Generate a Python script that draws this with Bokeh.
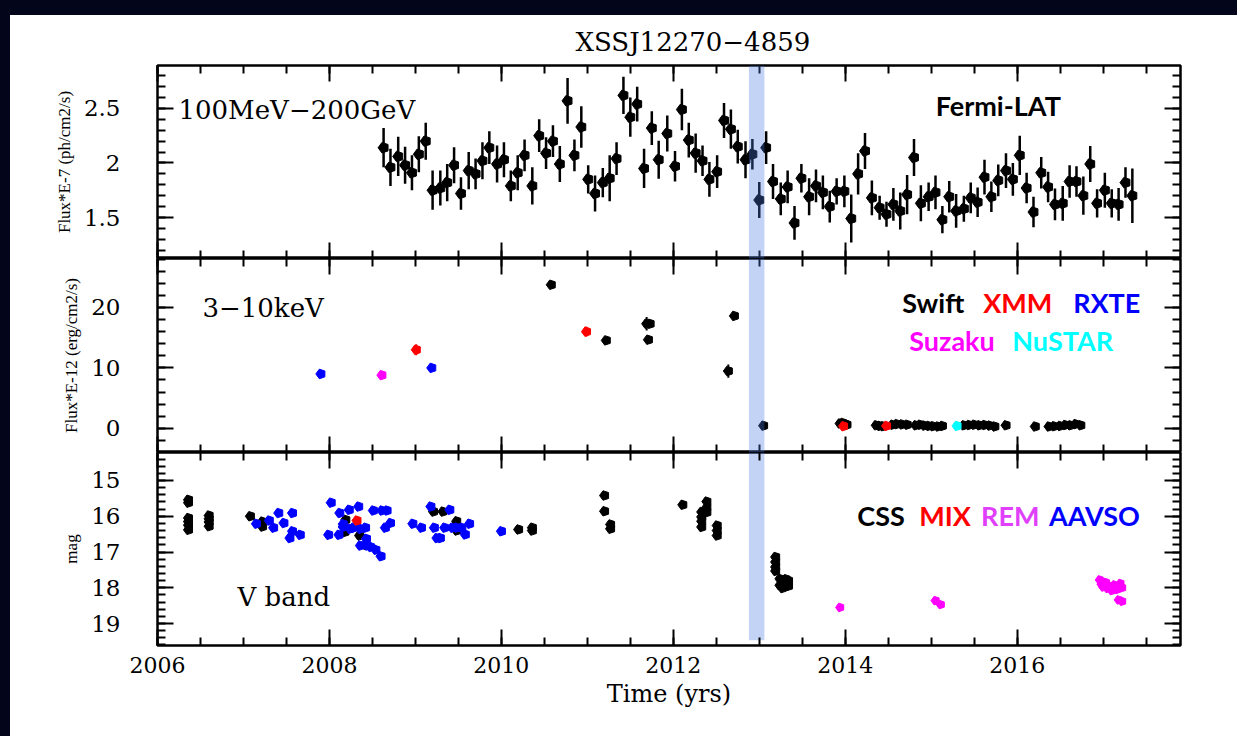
import math
from bokeh.plotting import figure
from bokeh.models import Range1d, LinearAxis, SingleIntervalTicker, Label, BoxAnnotation, ColumnDataSource, Title
from bokeh.layouts import column
from bokeh.embed import file_html
from bokeh.resources import INLINE
from bokeh.core.properties import value

# ---------------- data ----------------
TITLE = "XSSJ12270\u22124859"
X_LABEL = "Time (yrs)"
BAND_START, BAND_END = 2012.88, 2013.06

# Fermi-LAT 100MeV-200GeV (Flux*E-7 ph/cm2/s)
fermi_t = [2008.63, 2008.71, 2008.80, 2008.88, 2008.96, 2009.04, 2009.12, 2009.20, 2009.29, 2009.37,
           2009.45, 2009.53, 2009.62, 2009.70, 2009.78, 2009.86, 2009.95, 2010.03, 2010.11, 2010.19,
           2010.27, 2010.36, 2010.44, 2010.52, 2010.60, 2010.68, 2010.77, 2010.85, 2010.93, 2011.01,
           2011.09, 2011.18, 2011.26, 2011.34, 2011.42, 2011.50, 2011.58, 2011.66, 2011.75, 2011.83,
           2011.93, 2012.02, 2012.10, 2012.18, 2012.26, 2012.34, 2012.42, 2012.51, 2012.59, 2012.67,
           2012.75, 2012.84, 2012.92, 2013.00, 2013.08, 2013.16, 2013.25, 2013.33, 2013.41, 2013.49,
           2013.58, 2013.66, 2013.74, 2013.82, 2013.90, 2013.99, 2014.07, 2014.15, 2014.23, 2014.31,
           2014.40, 2014.48, 2014.56, 2014.64, 2014.72, 2014.80, 2014.88, 2014.97, 2015.05, 2015.13,
           2015.21, 2015.29, 2015.38, 2015.46, 2015.54, 2015.62, 2015.70, 2015.78, 2015.87, 2015.95,
           2016.03, 2016.11, 2016.19, 2016.28, 2016.36, 2016.44, 2016.53, 2016.61, 2016.69, 2016.77,
           2016.85, 2016.93, 2017.02, 2017.10, 2017.18, 2017.26, 2017.34]
fermi_f = [2.14, 1.96, 2.06, 1.98, 1.91, 2.08, 2.20, 1.75, 1.77, 1.82,
           1.98, 1.72, 1.93, 1.90, 2.02, 2.14, 1.99, 2.03, 1.79, 1.91,
           2.07, 1.79, 2.25, 2.09, 2.20, 1.99, 2.57, 2.07, 2.33, 1.85,
           1.72, 1.82, 1.86, 2.04, 2.62, 2.42, 2.54, 1.95, 2.32, 2.03,
           2.27, 1.97, 2.49, 2.21, 2.09, 2.02, 1.85, 1.92, 2.39, 2.31,
           2.15, 2.03, 2.08, 1.66, 2.14, 1.83, 1.67, 1.78, 1.45, 1.86,
           1.69, 1.79, 1.73, 1.60, 1.74, 1.74, 1.49, 1.90, 2.11, 1.68,
           1.59, 1.53, 1.62, 1.56, 1.71, 2.05, 1.63, 1.69, 1.73, 1.48,
           1.69, 1.56, 1.58, 1.68, 1.64, 1.87, 1.69, 1.84, 1.93, 1.85,
           2.07, 1.77, 1.55, 1.91, 1.78, 1.62, 1.63, 1.83, 1.83, 1.70,
           1.99, 1.63, 1.75, 1.63, 1.62, 1.82, 1.70]
fermi_e = [0.18, 0.17, 0.18, 0.17, 0.16, 0.165, 0.17, 0.18, 0.16, 0.17,
           0.165, 0.15, 0.17, 0.14, 0.17, 0.15, 0.17, 0.16, 0.14, 0.16,
           0.145, 0.17, 0.15, 0.145, 0.145, 0.165, 0.21, 0.145, 0.19, 0.13,
           0.165, 0.135, 0.21, 0.15, 0.17, 0.18, 0.16, 0.18, 0.155, 0.175,
           0.165, 0.14, 0.19, 0.16, 0.18, 0.14, 0.16, 0.15, 0.16, 0.18,
           0.155, 0.17, 0.14, 0.165, 0.15, 0.16, 0.15, 0.15, 0.155, 0.13,
           0.17, 0.15, 0.155, 0.145, 0.12, 0.145, 0.22, 0.19, 0.165, 0.16,
           0.11, 0.115, 0.15, 0.17, 0.18, 0.17, 0.165, 0.13, 0.155, 0.125,
           0.145, 0.155, 0.12, 0.14, 0.135, 0.16, 0.14, 0.145, 0.16, 0.15,
           0.18, 0.14, 0.14, 0.145, 0.14, 0.145, 0.16, 0.15, 0.14, 0.175,
           0.165, 0.13, 0.16, 0.13, 0.15, 0.14, 0.25]

# X-ray 3-10 keV (Flux*E-12 erg/cm2/s)
swift_t = [2010.58, 2011.22, 2011.69, 2011.73, 2011.71, 2012.64, 2012.71, 2013.05,
           2013.94, 2013.97, 2014.00, 2014.02, 2014.36, 2014.40, 2014.44,
           2014.55, 2014.60, 2014.66, 2014.72, 2014.82, 2014.87, 2014.92, 2014.97,
           2015.02, 2015.08, 2015.13, 2015.38, 2015.44, 2015.50, 2015.56, 2015.62,
           2015.68, 2015.74, 2015.87, 2016.21, 2016.37, 2016.43, 2016.50, 2016.56,
           2016.62, 2016.68, 2016.74]
swift_f = [23.75, 14.55, 17.3, 17.3, 14.66, 9.48, 18.6, 0.44,
           0.8, 0.9, 0.7, 0.6, 0.5, 0.4, 0.35,
           0.6, 0.7, 0.65, 0.6, 0.5, 0.6, 0.45, 0.4,
           0.35, 0.3, 0.4, 0.5, 0.55, 0.6, 0.5, 0.55,
           0.45, 0.3, 0.5, 0.3, 0.3, 0.35, 0.4, 0.55,
           0.5, 0.7, 0.5]
swift_e = [0.3, 0.3, 1.1, 0.6, 0.3, 1.1, 0.3, 0.2,
           0.2, 0.2, 0.2, 0.2, 0.2, 0.2, 0.2,
           0.2, 0.2, 0.2, 0.2, 0.2, 0.2, 0.2, 0.2,
           0.2, 0.2, 0.2, 0.2, 0.2, 0.2, 0.2, 0.2,
           0.2, 0.2, 0.2, 0.2, 0.2, 0.2, 0.2, 0.2,
           0.2, 0.2, 0.2]
xmm_t = [2009.01, 2010.99, 2013.98, 2014.48]
xmm_f = [13.0, 16.0, 0.35, 0.4]
xmm_e = [0.9, 0.8, 0.1, 0.1]
rxte_t = [2007.90, 2009.19]
rxte_f = [9.0, 10.0]
rxte_e = [0.7, 0.3]
suzaku_t = [2008.61]
suzaku_f = [8.8]
nustar_t = [2015.30]
nustar_f = [0.4]

# Optical V band (mag)
css_t = [2006.36, 2006.36, 2006.36, 2006.36, 2006.36, 2006.36,
         2006.60, 2006.60, 2006.60, 2006.60,
         2007.08, 2007.22, 2007.22, 2008.19, 2008.18, 2008.35, 2008.42,
         2009.21, 2009.32, 2009.48, 2009.48, 2010.20, 2010.36, 2010.36,
         2011.20, 2011.20, 2011.27, 2011.27, 2012.11,
         2012.33, 2012.33, 2012.33, 2012.33, 2012.39, 2012.39, 2012.39,
         2012.51, 2012.51, 2012.51,
         2013.19, 2013.19, 2013.19, 2013.19,
         2013.24, 2013.24, 2013.27, 2013.27, 2013.31, 2013.31, 2013.34, 2013.34]
css_m = [15.54, 15.62, 16.05, 16.15, 16.25, 16.38,
         15.98, 16.07, 16.16, 16.28,
         16.0, 16.15, 16.29, 16.10, 16.44, 16.54, 16.80,
         15.87, 15.87, 16.14, 16.40, 16.37, 16.32, 16.40,
         15.42, 15.86, 16.23, 16.35, 15.68,
         15.88, 16.02, 16.14, 16.30, 15.59, 15.75, 15.89,
         16.26, 16.40, 16.54,
         17.14, 17.28, 17.42, 17.53,
         17.75, 17.93, 17.84, 18.01, 17.76, 17.90, 17.80, 17.95]
mix_t = [2008.32]
mix_m = [16.12]
rem_t = [2013.94, 2015.05, 2015.11, 2016.96, 2016.98, 2017.00, 2017.03, 2017.05, 2017.08,
         2017.10, 2017.13, 2017.16, 2017.20, 2017.22, 2017.18, 2017.22]
rem_m = [18.55, 18.36, 18.47, 17.78, 17.90, 17.98, 17.85, 18.02, 17.95,
         18.08, 17.92, 18.05, 17.88, 18.00, 18.34, 18.38]
rem_xe = 0.04
aavso_t = [2007.15, 2007.30, 2007.35, 2007.41, 2007.47, 2007.54, 2007.57, 2007.57, 2007.66,
           2007.99, 2008.02, 2008.11, 2008.12, 2008.16, 2008.16, 2008.23, 2008.24, 2008.28,
           2008.34, 2008.36, 2008.42, 2008.43, 2008.36, 2008.44, 2008.48, 2008.51, 2008.54,
           2008.60, 2008.61, 2008.67, 2008.65, 2008.71,
           2008.97, 2009.07, 2009.18, 2009.22, 2009.25, 2009.29, 2009.34, 2009.40,
           2009.43, 2009.48, 2009.54, 2009.58, 2009.63, 2010.00]
aavso_m = [16.21, 16.12, 16.32, 15.91, 16.19, 16.61, 15.91, 16.42, 16.52,
           16.52, 15.62, 16.52, 15.91, 16.22, 16.30, 15.82, 16.35, 16.32,
           15.73, 16.35, 16.32, 16.63, 16.82, 16.82, 16.86, 15.84, 16.94,
           17.12, 15.84, 15.84, 16.32, 16.19,
           16.21, 16.32, 15.73, 16.32, 16.61, 16.61, 16.32, 15.82,
           16.32, 16.32, 16.32, 16.51, 16.21, 16.42]

# ---------------- styling helpers ----------------
SERIF = "DejaVu Serif"
NARROW = "Liberation Serif"
SANS = "Lato"
DARK = "#03051a"
BAND_COLOR = "#4a78e4"

X_RANGE = (2006.0, 2017.9)


def make_fig(y_range, fh, top_b, bottom_b):
    p = figure(frame_width=1023, frame_height=fh, min_border_left=147, min_border_right=57,
               min_border_top=top_b, min_border_bottom=bottom_b,
               x_range=Range1d(*X_RANGE), y_range=y_range,
               output_backend="svg", toolbar_location=None,
               x_axis_location=None, y_axis_location=None,
               background_fill_color="white", border_fill_color="white",
               outline_line_color="black", outline_line_width=2.5)
    for g in p.grid:
        g.visible = False
    return p


def style_axis(ax, show_labels, font_size="21px", standoff=12):
    ax.major_tick_in = 16
    ax.major_tick_out = 0
    ax.minor_tick_in = 8
    ax.minor_tick_out = 0
    ax.major_tick_line_width = 2
    ax.minor_tick_line_width = 2
    ax.major_tick_line_color = "black"
    ax.minor_tick_line_color = "black"
    ax.axis_line_color = None
    if show_labels:
        ax.major_label_text_font = SERIF
        ax.major_label_text_font_size = font_size
        ax.major_label_text_color = "black"
        ax.major_label_standoff = standoff
    else:
        ax.major_label_text_font_size = "0px"
        ax.major_label_text_color = None
        ax.major_label_standoff = 0


def add_axes(p, ymaj, ynminor, ylabel, show_x):
    xt = SingleIntervalTicker(interval=2, num_minor_ticks=4)
    yt = SingleIntervalTicker(interval=ymaj, num_minor_ticks=ynminor)
    below = LinearAxis(ticker=xt)
    style_axis(below, show_x, "22px", 11)
    if show_x:
        below.axis_label = X_LABEL
        below.axis_label_text_font = SERIF
        below.axis_label_text_font_size = "24px"
        below.axis_label_text_font_style = "normal"
        below.axis_label_text_color = "black"
        below.axis_label_standoff = 4
    above = LinearAxis(ticker=xt)
    style_axis(above, False)
    left = LinearAxis(ticker=yt)
    style_axis(left, True, "23px", 37)
    left.major_label_text_align = "right"
    left.axis_label = ylabel
    left.axis_label_text_font = NARROW
    left.axis_label_text_font_size = "17px"
    left.axis_label_text_font_style = "normal"
    left.axis_label_text_color = "black"
    left.axis_label_standoff = 7
    right = LinearAxis(ticker=yt)
    style_axis(right, False)
    p.add_layout(below, "below")
    p.add_layout(above, "above")
    p.add_layout(left, "left")
    p.add_layout(right, "right")


def pent(p, xs, ys, color, r):
    src = ColumnDataSource(dict(x=list(xs), y=list(ys)))
    try:
        p.ngon(x="x", y="y", radius=r, radius_units="screen", n=5, angle=math.pi / 2,
               fill_color=color, line_color=color, source=src)
    except Exception:
        p.scatter(x="x", y="y", marker="hex", size=2 * r, angle=math.pi / 2,
                  fill_color=color, line_color=color, source=src)


def yerr(p, xs, ys, es, color, w):
    p.segment(x0=xs, y0=[y - e for y, e in zip(ys, es)], x1=xs,
              y1=[y + e for y, e in zip(ys, es)], line_color=color, line_width=w)


def txt(p, x, y, s, color, font, size, bold=False, align="left"):
    p.add_layout(Label(x=x, y=y, text=s, text_color=color, text_font=font,
                       text_font_size=size, text_font_style="bold" if bold else "normal",
                       text_align=align, text_baseline="alphabetic"))


# ---------------- top panel: Fermi ----------------
p1 = make_fig(Range1d(1.124, 2.894), 193, 50, 0)
add_axes(p1, 0.5, 5, "Flux*E-7 (ph/cm2/s)", False)
p1.add_layout(Title(text=TITLE, align="left", offset=418, text_font=SERIF,
                    text_font_size="26px", text_font_style="normal", text_color="black",
                    vertical_align="top", standoff=14), "above")
yerr(p1, fermi_t, fermi_f, fermi_e, "black", 2.5)
pent(p1, fermi_t, fermi_f, "black", 5.5)
p1.add_layout(BoxAnnotation(left=BAND_START, right=BAND_END, fill_color=BAND_COLOR,
                            fill_alpha=0.33, line_color=None))
txt(p1, 2006.244, 2.482, "100MeV\u2212200GeV", "black", SERIF, "26px")
txt(p1, 2015.78, 2.528, "Fermi-LAT", "black", SANS, "27px", True, "center")

# ---------------- middle panel: X-ray ----------------
p2 = make_fig(Range1d(-4.0, 28.1), 194, 0, 0)
add_axes(p2, 10, 5, "Flux*E-12 (erg/cm2/s)", False)
yerr(p2, swift_t, swift_f, swift_e, "black", 2)
pent(p2, swift_t, swift_f, "black", 5)
yerr(p2, xmm_t, xmm_f, xmm_e, "red", 2)
pent(p2, xmm_t, xmm_f, "red", 5)
yerr(p2, rxte_t, rxte_f, rxte_e, "blue", 2)
pent(p2, rxte_t, rxte_f, "blue", 5)
pent(p2, suzaku_t, suzaku_f, "#ff00ff", 5)
pent(p2, nustar_t, nustar_f, "#00ffff", 5)
p2.add_layout(BoxAnnotation(left=BAND_START, right=BAND_END, fill_color=BAND_COLOR,
                            fill_alpha=0.33, line_color=None))
txt(p2, 2006.523, 19.83, "3\u221210keV", "black", SERIF, "26px")
txt(p2, 2014.663, 20.83, "Swift", "black", SANS, "27px", True)
txt(p2, 2015.605, 20.83, "XMM", "#ff0000", SANS, "27px", True)
txt(p2, 2016.651, 20.83, "RXTE", "#0000ff", SANS, "27px", True)
txt(p2, 2014.744, 14.55, "Suzaku", "#ff00ff", SANS, "27px", True)
txt(p2, 2015.942, 14.55, "NuSTAR", "#00ffff", SANS, "27px", True)

# ---------------- bottom panel: optical ----------------
p3 = make_fig(Range1d(19.615, 14.217), 193, 0, 91)
add_axes(p3, 1, 5, "mag", True)
pent(p3, css_t, css_m, "black", 5)
pent(p3, aavso_t, aavso_m, "#0000ff", 5)
pent(p3, mix_t, mix_m, "#ff0000", 5)
p3.segment(x0=[t - rem_xe for t in rem_t], y0=rem_m, x1=[t + rem_xe for t in rem_t], y1=rem_m,
           line_color="#ff00ff", line_width=2)
pent(p3, rem_t, rem_m, "#ff00ff", 4.5)
p3.quad(left=[BAND_START], right=[BAND_END], top=[14.217], bottom=[19.47],
        fill_color=BAND_COLOR, fill_alpha=0.33, line_color=None)
txt(p3, 2006.93, 18.27, "V band", "black", SERIF, "26px")
txt(p3, 2014.14, 15.98, "CSS", "black", SANS, "27px", True)
txt(p3, 2014.86, 15.98, "MIX", "#ff0000", SANS, "27px", True)
txt(p3, 2015.58, 15.98, "REM", "#e040fb", SANS, "27px", True)
txt(p3, 2016.37, 15.98, "AAVSO", "#0000ff", SANS, "27px", True)

inner = column(p1, p2, p3, spacing=0, styles={"background-color": "white"})
layout = column(inner, spacing=0,
                styles={"background-color": DARK, "padding-top": "15px", "padding-left": "10px"})

open("out.html", "w").write(file_html(layout, INLINE))
